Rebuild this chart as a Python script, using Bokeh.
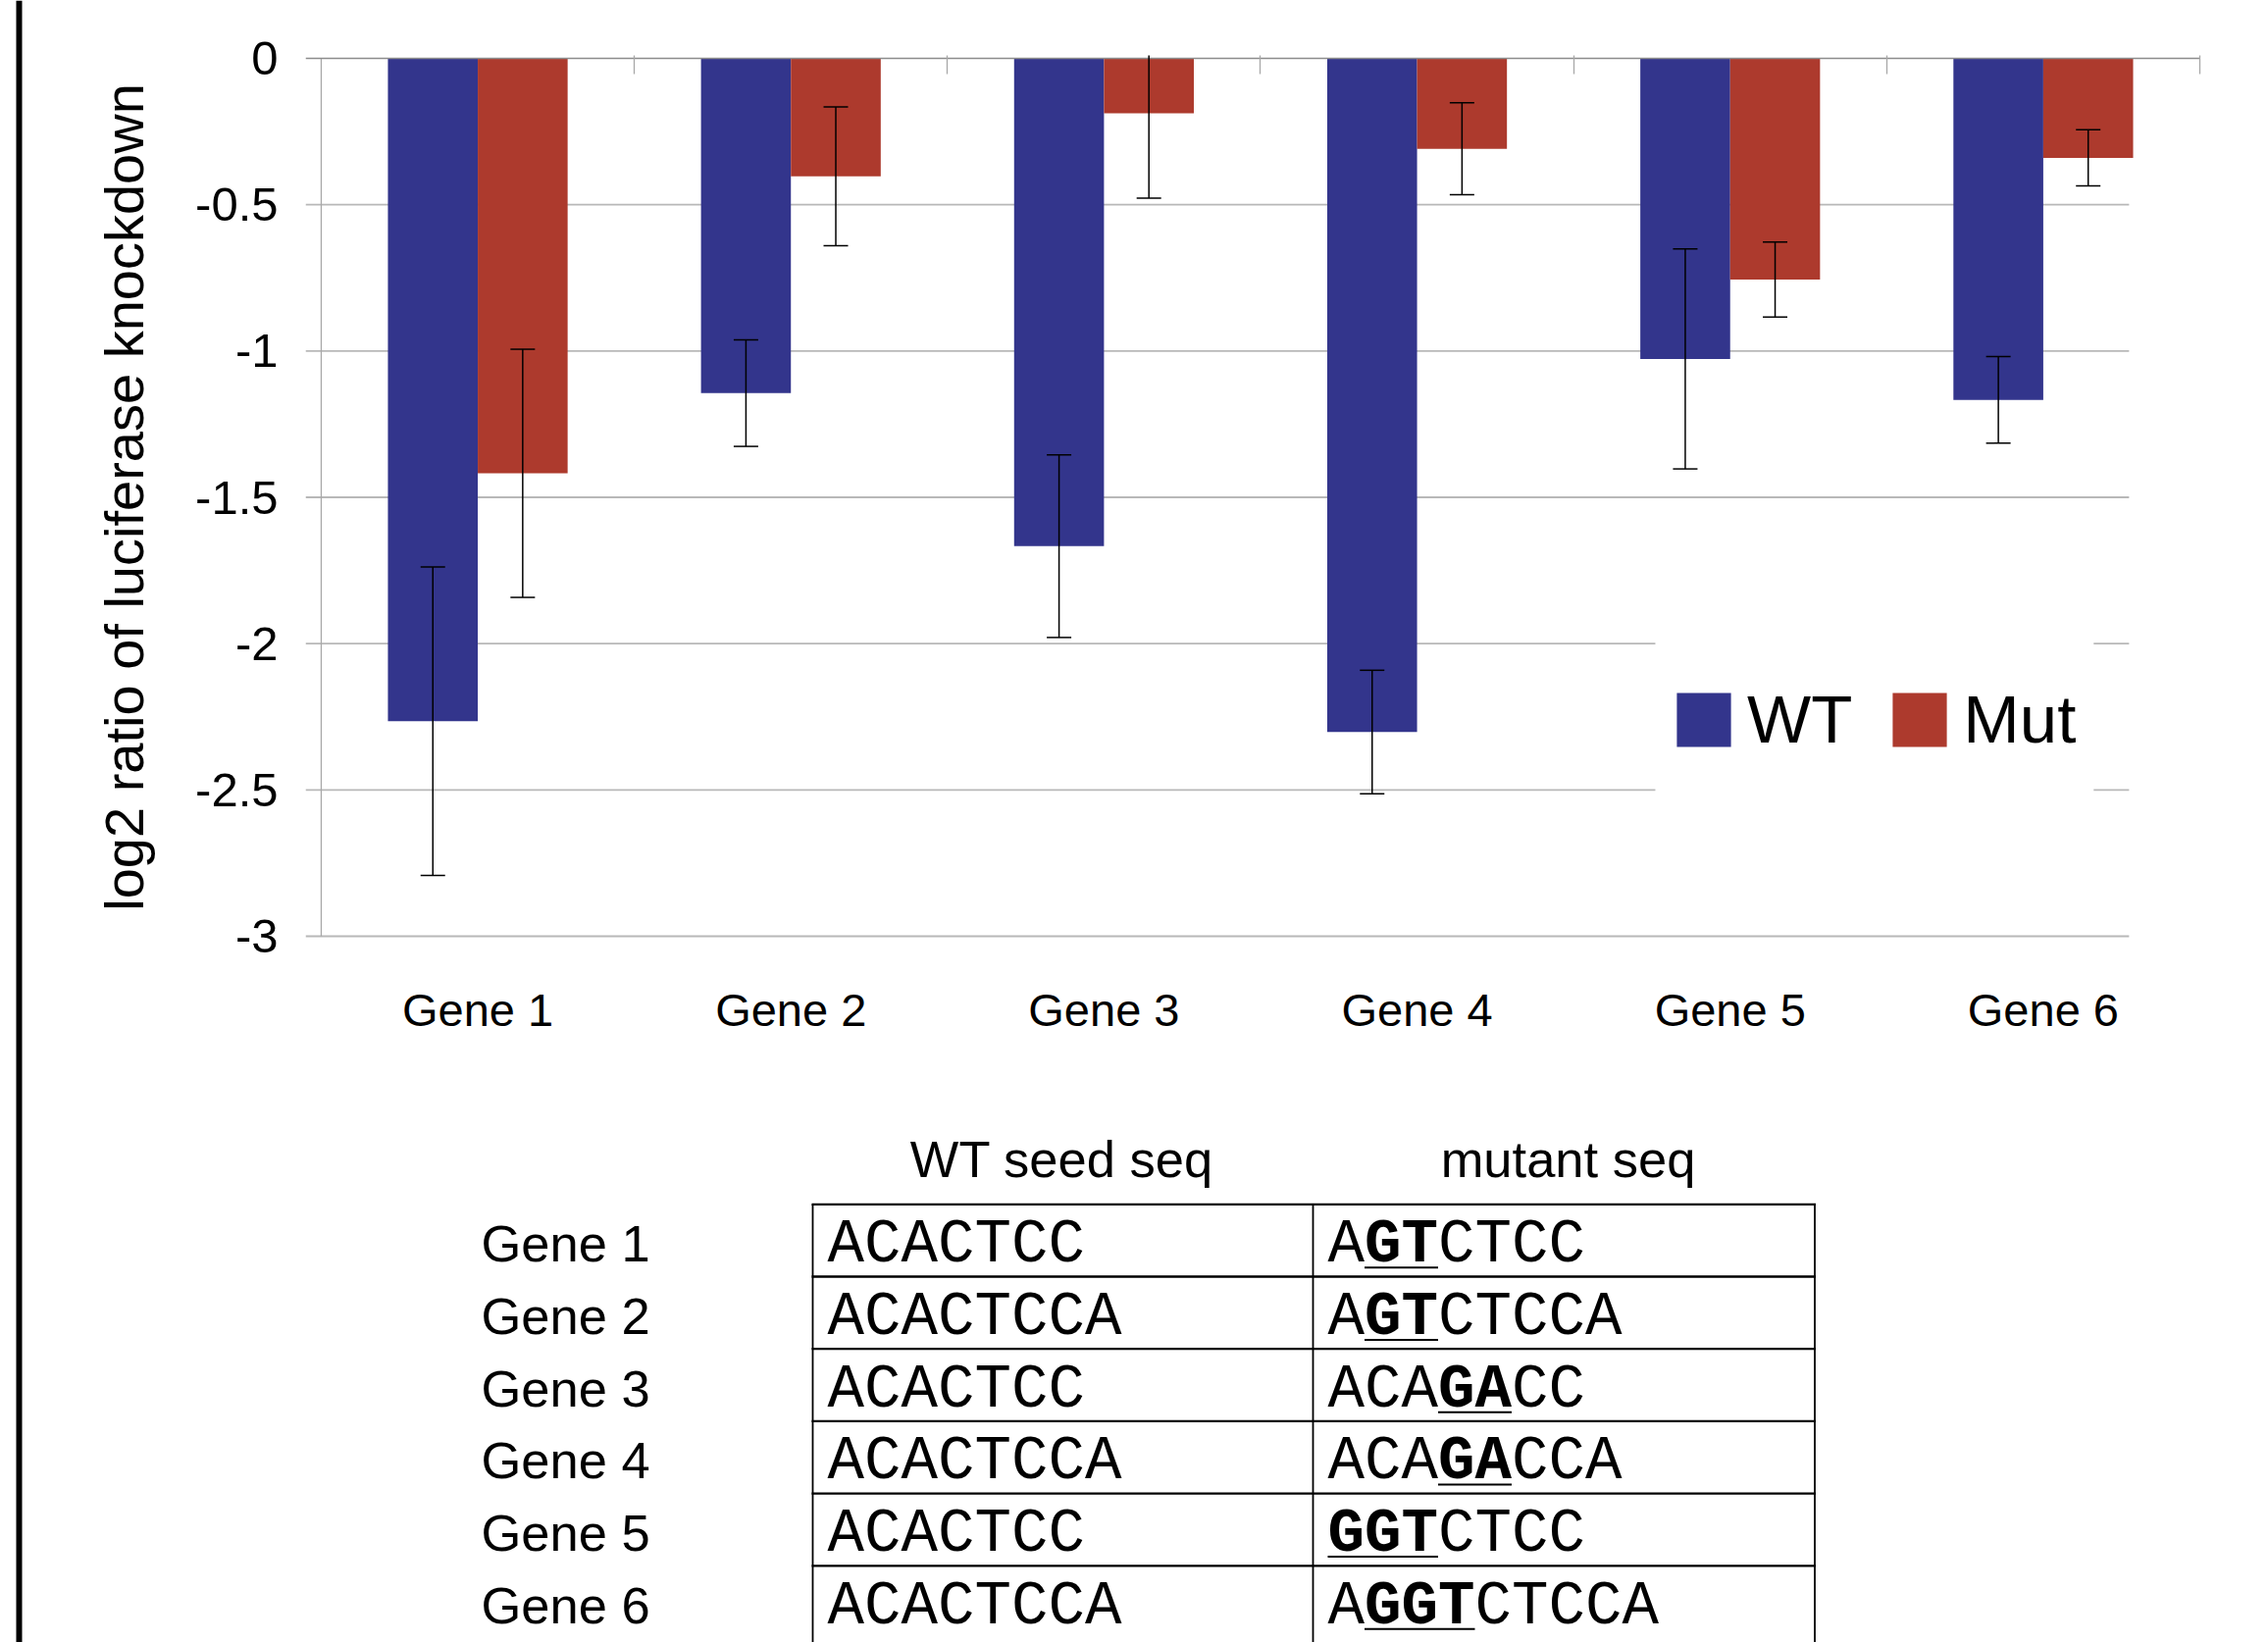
from bokeh.plotting import figure
from bokeh.models import (Range1d, FixedTicker, Legend, LegendItem, BoxAnnotation,
                          LinearAxis, ColumnDataSource)
from bokeh.layouts import row, column
from bokeh.embed import file_html
from bokeh.resources import INLINE
from bokeh.core.properties import value

# ---------------- data ----------------
genes = ["Gene 1", "Gene 2", "Gene 3", "Gene 4", "Gene 5", "Gene 6"]
series = ["WT", "Mut"]
wt_mean = [-2.265, -1.144, -1.667, -2.302, -1.027, -1.167]
wt_err = [0.527, 0.182, 0.312, 0.211, 0.376, 0.148]
mut_mean = [-1.418, -0.403, -0.188, -0.309, -0.756, -0.340]
mut_err = [0.424, 0.237, 0.290, 0.157, 0.128, 0.096]
y_ticks = [0.0, -0.5, -1.0, -1.5, -2.0, -2.5, -3.0]
y_tick_labels = ["0", "-0.5", "-1", "-1.5", "-2", "-2.5", "-3"]
y_title = "log2 ratio of luciferase knockdown"
table_headers = ["WT seed seq", "mutant seq"]
wt_seqs = ["ACACTCC", "ACACTCCA", "ACACTCC", "ACACTCCA", "ACACTCC", "ACACTCCA"]
mut_seqs = ["AGTCTCC", "AGTCTCCA", "ACAGACC", "ACAGACCA", "GGTCTCC", "AGGTCTCCA"]
mut_bold = [(1, 3), (1, 3), (3, 5), (3, 5), (0, 3), (1, 4)]  # [start, end) of changed bases

# ---------------- style ----------------
WT_COLOR = "#33358c"
MUT_COLOR = "#ad3a2d"
GRID_COLOR = "#b8b8b8"
ZERO_COLOR = "#8c8c8c"
SANS = "Liberation Sans"
MONO = "Liberation Mono"

PAGE_W, PAGE_H = 2312, 1674
LW = 23                 # left strip width (black rule)
W = PAGE_W - LW         # width of chart / table figures
CH = 1118               # chart figure height
TH = PAGE_H - CH        # table figure height
BL, BR = 288, 70        # chart left / right borders (frame = 1931 px)

n = len(genes)
centers = [i + 0.5 for i in range(n)]
bw = 0.287

# ---------------- chart ----------------
p = figure(width=W, height=CH, x_range=Range1d(-0.05, float(n)), y_range=Range1d(-3.01, 0.01),
           output_backend="svg", toolbar_location=None,
           min_border_left=BL, min_border_right=BR, min_border_top=56, min_border_bottom=161)
p.outline_line_color = None
p.xgrid.visible = False
p.ygrid.visible = False

src = ColumnDataSource(dict(
    x_wt=[c - bw / 2 for c in centers],
    x_mut=[c + bw / 2 for c in centers],
    wt=wt_mean, mut=mut_mean,
    wt_lo=[m - e for m, e in zip(wt_mean, wt_err)],
    wt_hi=[m + e for m, e in zip(wt_mean, wt_err)],
    mut_lo=[m - e for m, e in zip(mut_mean, mut_err)],
    mut_hi=[m + e for m, e in zip(mut_mean, mut_err)],
))

# horizontal grid lines (they stop short of the right edge, as in the original)
grid_src = ColumnDataSource(dict(y=y_ticks[1:]))
p.segment(x0=-0.05, x1=5.774, y0="y", y1="y", source=grid_src, line_color=GRID_COLOR, line_width=1.8)
# vertical value-axis line at x = 0
p.segment(x0=0, x1=0, y0=y_ticks[0], y1=y_ticks[-1], line_color="#a8a8a8", line_width=1.3)

wt_r = p.vbar(x="x_wt", top="wt", width=bw, source=src, fill_color=WT_COLOR, line_color=None)
mut_r = p.vbar(x="x_mut", top="mut", width=bw, source=src, fill_color=MUT_COLOR, line_color=None)

# zero line (category axis)
p.segment(x0=-0.05, x1=float(n), y0=0, y1=0, line_color=ZERO_COLOR, line_width=1.5)

# error bars
for xs, lo, hi in (("x_wt", "wt_lo", "wt_hi"), ("x_mut", "mut_lo", "mut_hi")):
    p.segment(x0=xs, x1=xs, y0=lo, y1=hi, source=src, line_color="black", line_width=1.5)
    p.scatter(x=xs, y=lo, source=src, marker="dash", size=25, line_color="black", line_width=1.5)
    p.scatter(x=xs, y=hi, source=src, marker="dash", size=25, line_color="black", line_width=1.5)

# y axis
ya = p.yaxis[0]
ya.ticker = FixedTicker(ticks=y_ticks)
ya.major_label_overrides = {t: l for t, l in zip(y_ticks, y_tick_labels)}
ya.axis_line_color = None
ya.major_tick_line_color = None
ya.minor_tick_line_color = None
ya.major_tick_out = 0
ya.major_tick_in = 0
ya.major_label_standoff = 28
ya.major_label_text_font = SANS
ya.major_label_text_font_size = "49px"
ya.major_label_text_color = "black"
ya.axis_label = y_title
ya.axis_label_text_font = SANS
ya.axis_label_text_font_size = "56px"
ya.axis_label_text_font_style = "normal"
ya.axis_label_text_color = "black"
ya.axis_label_standoff = 38

# x axis (category labels)
xa = p.xaxis[0]
xa.ticker = FixedTicker(ticks=centers)
xa.major_label_overrides = {c: g for c, g in zip(centers, genes)}
xa.axis_line_color = None
xa.major_tick_line_color = None
xa.minor_tick_line_color = None
xa.major_tick_out = 0
xa.major_tick_in = 0
xa.major_label_standoff = 45
xa.major_label_text_font = SANS
xa.major_label_text_font_size = "47px"
xa.major_label_text_color = "black"

# category separator ticks hanging from the zero line
top_ax = LinearAxis(ticker=FixedTicker(ticks=[float(k) for k in range(1, n + 1)]),
                    major_label_overrides={float(k): "" for k in range(1, n + 1)},
                    axis_line_color=None, major_tick_in=19, major_tick_out=0,
                    major_tick_line_color="#a8a8a8", major_tick_line_width=1.3,
                    minor_tick_line_color=None, major_label_standoff=0,
                    major_label_text_font_size="1px")
p.add_layout(top_ax, "above")

# legend with a white background that hides the grid behind it
p.add_layout(BoxAnnotation(left=4.261, right=5.661, top=-1.8, bottom=-2.75,
                           fill_color="white", fill_alpha=1.0, line_color=None))
legend = Legend(items=[LegendItem(label=series[0], renderers=[wt_r]),
                       LegendItem(label=series[1], renderers=[mut_r])],
                orientation="horizontal", location=(1391, 184),
                glyph_width=69, glyph_height=69, label_standoff=10, spacing=34,
                padding=15, margin=0,
                label_text_font=SANS, label_text_font_size="69px", label_text_color="black",
                background_fill_alpha=0.0, border_line_color=None)
p.add_layout(legend)

# ---------------- table ----------------
# the column layout aligns this figure's frame with the chart's frame, so the
# x range spans the same page pixels as the chart frame
t = figure(width=W, height=TH, x_range=Range1d(LW + BL, PAGE_W - BR),
           y_range=Range1d(PAGE_H, CH),
           x_axis_location=None, y_axis_location=None, min_border=0,
           min_border_left=BL, min_border_right=BR,
           output_backend="svg", toolbar_location=None)
t.outline_line_color = None
t.grid.visible = False

TABLE_SHIFT = -6.0      # keeps the last row clear of the page's bottom edge
seq_font_px = 62.5
adv = 0.6 * seq_font_px
row_top = 1233.3 + TABLE_SHIFT
row_h = 73.7
col_edges = [828.0, 1338.0, 1849.5]
inset = 15.0
base_off = 58.0
label_x = 490.0
header_y = 1204.5 + TABLE_SHIFT
header_x = [1082.0, 1598.0]
SANS_FIX = 18.0   # the text glyph draws its baseline this much lower than y
MONO_FIX = 16.0

# grid of the table (top rule and the rules between rows)
hl = ColumnDataSource(dict(y=[row_top + k * row_h for k in range(n)]))
t.segment(x0=col_edges[0] - 1, x1=col_edges[-1] + 1, y0="y", y1="y", source=hl,
          line_color="black", line_width=2.3)
vl = ColumnDataSource(dict(x=col_edges))
t.segment(x0="x", x1="x", y0=row_top, y1=PAGE_H, source=vl, line_color="black", line_width=1.8)

# headers
t.text(x=header_x, y=[header_y - SANS_FIX] * 2, text=table_headers, text_font=value(SANS),
       text_font_size=value("52.5px"), text_align="center", text_baseline="alphabetic",
       text_color="black")

rows_y = [row_top + base_off + i * row_h for i in range(n)]
t.text(x=[label_x] * n, y=[y - SANS_FIX for y in rows_y], text=genes, text_font=value(SANS),
       text_font_size=value("52.5px"), text_align="left", text_baseline="alphabetic",
       text_color="black")

norm = dict(x=[], y=[], text=[])
bold = dict(x=[], y=[], text=[])
ul = dict(x0=[], x1=[], y=[])
for i in range(n):
    y = rows_y[i]
    yt = y - MONO_FIX
    norm["x"].append(col_edges[0] + inset); norm["y"].append(yt); norm["text"].append(wt_seqs[i])
    s, e = mut_bold[i]
    seq = mut_seqs[i]
    xm = col_edges[1] + inset
    if s > 0:
        norm["x"].append(xm); norm["y"].append(yt); norm["text"].append(seq[:s])
    bold["x"].append(xm + s * adv); bold["y"].append(yt); bold["text"].append(seq[s:e])
    if e < len(seq):
        norm["x"].append(xm + e * adv); norm["y"].append(yt); norm["text"].append(seq[e:])
    ul["x0"].append(xm + s * adv); ul["x1"].append(xm + e * adv); ul["y"].append(y + 6.5)

t.text(x="x", y="y", text="text", source=ColumnDataSource(norm), text_font=value(MONO),
       text_font_size=value(f"{seq_font_px}px"), text_align="left", text_baseline="alphabetic",
       text_color="black")
t.text(x="x", y="y", text="text", source=ColumnDataSource(bold), text_font=value(MONO),
       text_font_size=value(f"{seq_font_px}px"), text_font_style="bold", text_align="left",
       text_baseline="alphabetic", text_color="black")
t.segment(x0="x0", x1="x1", y0="y", y1="y", source=ColumnDataSource(ul),
          line_color="black", line_width=2)

# ---------------- left rule ----------------
lf = figure(width=LW, height=PAGE_H, x_range=Range1d(0, LW), y_range=Range1d(PAGE_H, 0),
            x_axis_location=None, y_axis_location=None, min_border=0,
            output_backend="svg", toolbar_location=None)
lf.outline_line_color = None
lf.grid.visible = False
lf.quad(left=[16], right=[22], top=[0], bottom=[PAGE_H], fill_color="black", line_color=None)

layout = row(lf, column(p, t, spacing=0), spacing=0)
open("out.html", "w").write(file_html(layout, INLINE))
